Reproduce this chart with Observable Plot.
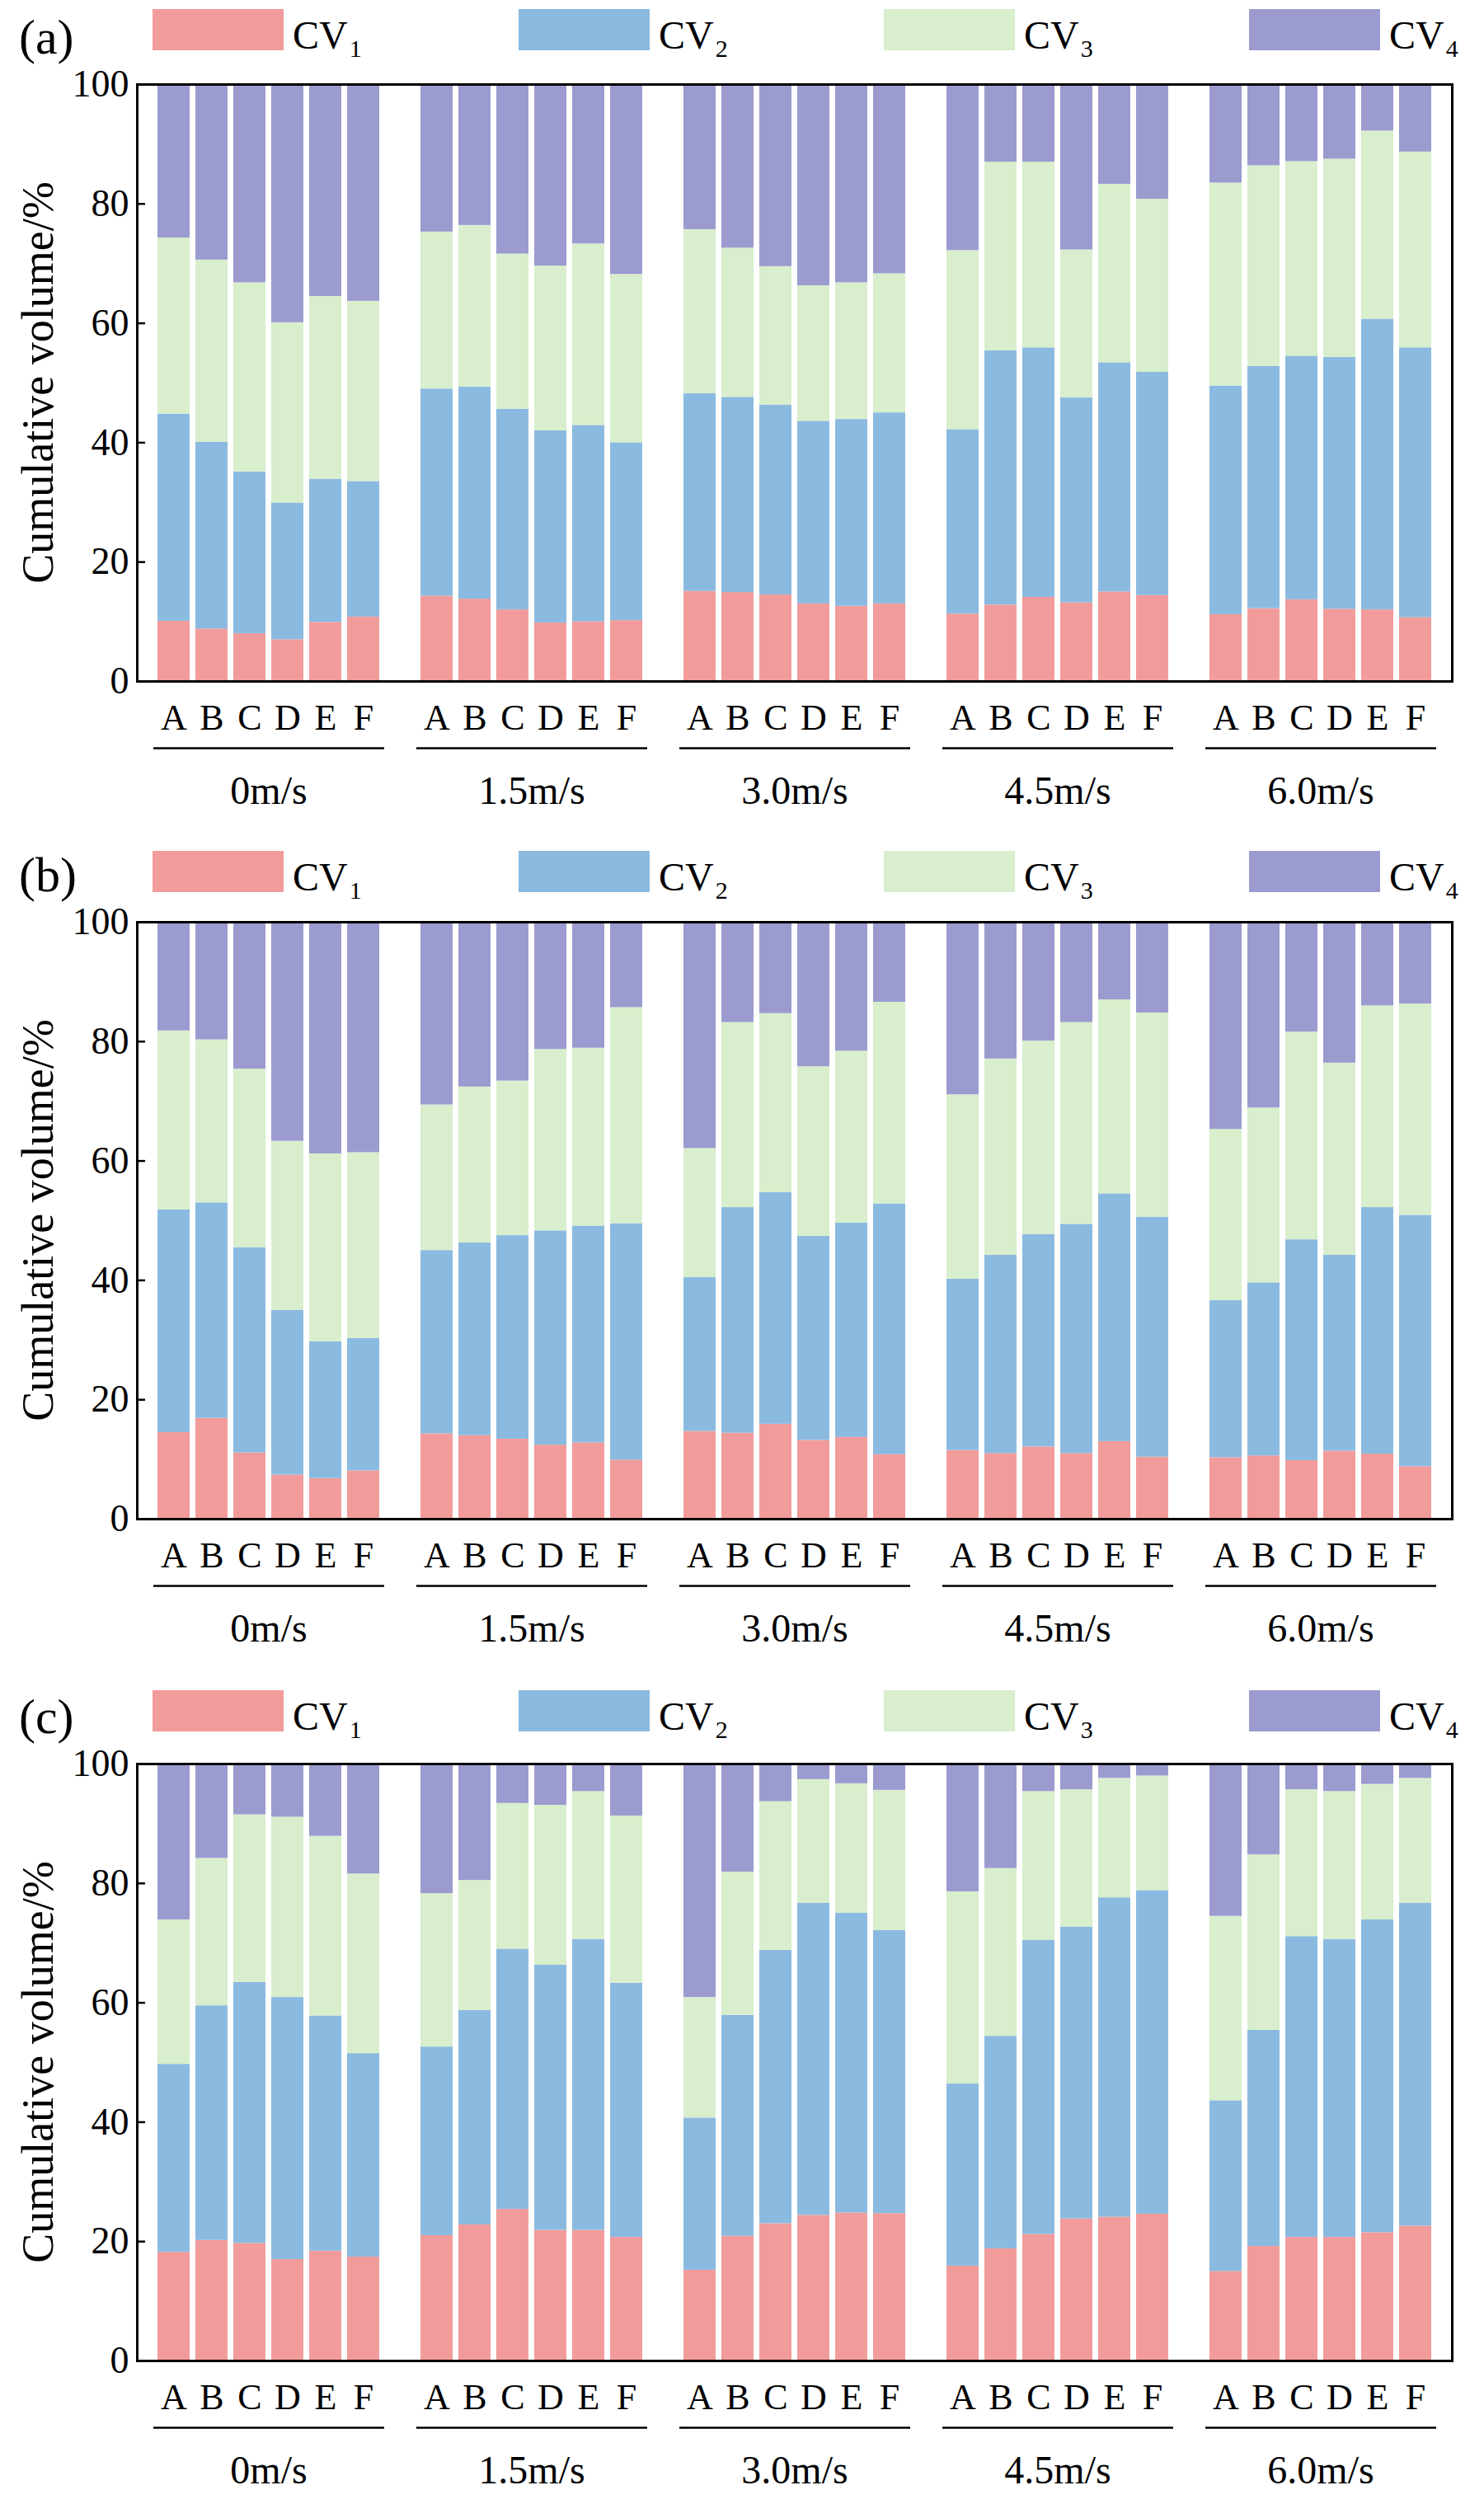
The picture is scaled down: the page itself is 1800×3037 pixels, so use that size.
<!DOCTYPE html>
<html><head><meta charset="utf-8">
<script src="https://cdn.jsdelivr.net/npm/d3@7"></script>
<script src="https://cdn.jsdelivr.net/npm/@observablehq/plot@0.6"></script>
<style>
body{margin:0;background:#fff;width:1800px;height:3037px;position:relative;overflow:hidden;font-family:"Palatino Linotype","Book Antiqua",Palatino,"Liberation Serif",serif;color:#000;}
.block{position:absolute;left:0;width:1800px;height:1000px;}
.plabel{position:absolute;left:23px;font-size:60px;line-height:1.2;white-space:nowrap;}
.sw{position:absolute;width:159px;height:50px;}
.lt{position:absolute;font-size:48px;line-height:1.2;white-space:nowrap;}
.lt .sub{font-size:30px;position:relative;top:10px;margin-left:2px;}
.ylab{position:absolute;left:46px;top:464px;font-size:54px;line-height:1.2;white-space:nowrap;transform:translate(-50%,-50%) rotate(-90deg);}
.chart{position:absolute;left:0;top:50px;}
</style></head><body>
<script>
// categories
const groups = ["0m/s", "1.5m/s", "3.0m/s", "4.5m/s", "6.0m/s"];
const letters = ["A", "B", "C", "D", "E", "F"];
const seriesNames = ["CV1", "CV2", "CV3", "CV4"];
const seriesColors = ["#f29b9b", "#8bbae0", "#d8eecd", "#9b9bcf"];
const yTicks = [0, 20, 40, 60, 80, 100];

// cumulative tops (%) of CV1, CV1+CV2, CV1+CV2+CV3; 6 bars (A-F) per group, 5 groups
const aCv1Top = [10.1, 8.8, 8.0, 7.0, 9.9, 10.8, 14.3, 13.8, 12.0, 9.8, 10.0, 10.2, 15.1, 14.9, 14.5, 13.0, 12.6, 13.0, 11.3, 12.8, 14.1, 13.2, 15.0, 14.4, 11.2, 12.2, 13.7, 12.1, 12.0, 10.7];
const aCv2Top = [44.8, 40.1, 35.1, 29.9, 33.9, 33.5, 49.0, 49.3, 45.6, 42.0, 42.9, 40.0, 48.2, 47.6, 46.3, 43.6, 43.9, 45.0, 42.2, 55.4, 55.9, 47.5, 53.4, 51.8, 49.5, 52.8, 54.5, 54.3, 60.7, 55.9];
const aCv3Top = [74.3, 70.6, 66.8, 60.1, 64.5, 63.7, 75.3, 76.4, 71.6, 69.6, 73.3, 68.2, 75.7, 72.6, 69.5, 66.3, 66.8, 68.3, 72.2, 87.0, 87.0, 72.3, 83.3, 80.8, 83.5, 86.4, 87.1, 87.5, 92.2, 88.7];

const bCv1Top = [14.5, 16.9, 11.1, 7.4, 6.8, 8.1, 14.3, 14.0, 13.4, 12.4, 12.8, 9.9, 14.7, 14.4, 15.9, 13.2, 13.7, 10.8, 11.5, 11.0, 12.1, 11.0, 13.0, 10.4, 10.3, 10.6, 9.8, 11.4, 10.9, 8.8];
const bCv2Top = [51.8, 53.0, 45.5, 35.0, 29.7, 30.3, 45.0, 46.3, 47.5, 48.3, 49.1, 49.5, 40.5, 52.2, 54.7, 47.4, 49.6, 52.8, 40.2, 44.2, 47.7, 49.4, 54.5, 50.6, 36.6, 39.6, 46.8, 44.2, 52.2, 50.9];
const bCv3Top = [81.8, 80.3, 75.4, 63.3, 61.2, 61.4, 69.4, 72.4, 73.4, 78.7, 78.9, 85.7, 62.1, 83.2, 84.7, 75.8, 78.4, 86.6, 71.1, 77.1, 80.1, 83.2, 87.0, 84.8, 65.3, 68.9, 81.6, 76.4, 86.0, 86.3];

const cCv1Top = [18.2, 20.2, 19.7, 17.0, 18.4, 17.4, 21.0, 22.8, 25.4, 21.9, 21.9, 20.7, 15.2, 20.9, 23.0, 24.4, 24.8, 24.7, 15.9, 18.8, 21.2, 23.8, 24.1, 24.6, 15.0, 19.2, 20.7, 20.7, 21.5, 22.6];
const cCv2Top = [49.7, 59.5, 63.4, 60.9, 57.8, 51.5, 52.6, 58.7, 69.0, 66.3, 70.6, 63.3, 40.7, 57.9, 68.8, 76.7, 75.0, 72.1, 46.4, 54.4, 70.5, 72.7, 77.6, 78.8, 43.6, 55.4, 71.1, 70.6, 73.9, 76.7];
const cCv3Top = [73.9, 84.2, 91.5, 91.1, 87.9, 81.6, 78.3, 80.5, 93.4, 93.1, 95.4, 91.3, 60.9, 81.9, 93.7, 97.4, 96.7, 95.6, 78.6, 82.5, 95.4, 95.7, 97.6, 98.0, 74.5, 84.8, 95.7, 95.4, 96.6, 97.6];

const panels = [
  {label: "(a)", tops: [aCv1Top, aCv2Top, aCv3Top], top: 0, legendTop: 11},
  {label: "(b)", tops: [bCv1Top, bCv2Top, bCv3Top], top: 1016, legendTop: 16},
  {label: "(c)", tops: [cCv1Top, cCv2Top, cCv3Top], top: 2037, legendTop: 13}
];

const legendX = [185, 629, 1072, 1515];
const fontFamily = '"Palatino Linotype","Book Antiqua",Palatino,"Liberation Serif",serif';

function rowsFor(tops) {
  const rows = [];
  for (let i = 0; i < groups.length * letters.length; i++) {
    const b = [0, tops[0][i], tops[1][i], tops[2][i], 100];
    for (let k = 0; k < 4; k++) {
      rows.push({group: groups[Math.floor(i / 6)], letter: letters[i % 6], cv: seriesNames[k], y1: b[k], y2: b[k + 1]});
    }
  }
  return rows;
}

for (const p of panels) {
  const block = document.createElement("div");
  block.className = "block";
  block.style.top = p.top + "px";
  document.body.appendChild(block);

  const chart = Plot.plot({
    width: 1800, height: 950,
    marginTop: 52, marginBottom: 174, marginLeft: 164, marginRight: 37,
    style: {fontFamily, fontSize: "44px", color: "black", background: "transparent", overflow: "visible"},
    fx: {domain: groups, padding: 0, label: null},
    x: {domain: letters, paddingInner: 0.145, paddingOuter: 0.485, label: null},
    y: {domain: [0, 100], label: null},
    color: {domain: seriesNames, range: seriesColors},
    marks: [
      Plot.barY(rowsFor(p.tops), {fx: "group", x: "letter", y1: "y1", y2: "y2", fill: "cv"}),
      Plot.frame({facet: "super", stroke: "black", strokeWidth: 3}),
      Plot.axisY({ticks: yTicks, tickSize: -10, tickPadding: 20, fontSize: 46, label: null, strokeWidth: 2.5}),
      Plot.axisX({tickSize: 0, tickPadding: 27, fontSize: 44, label: null}),
      Plot.axisFx({anchor: "bottom", tickSize: 0, tickPadding: 114, fontSize: 48, label: null}),
      Plot.ruleY([0], {dy: 81, insetLeft: 20, insetRight: 19, stroke: "black", strokeWidth: 2.5})
    ]
  });
  const holder = document.createElement("div");
  holder.className = "chart";
  holder.appendChild(chart);
  block.appendChild(holder);

  const lab = document.createElement("div");
  lab.className = "plabel";
  lab.style.top = "9px";
  lab.textContent = p.label;
  block.appendChild(lab);

  seriesNames.forEach((s, k) => {
    const sw = document.createElement("div");
    sw.className = "sw";
    sw.style.left = legendX[k] + "px";
    sw.style.top = p.legendTop + "px";
    sw.style.background = seriesColors[k];
    block.appendChild(sw);
    const t = document.createElement("div");
    t.className = "lt";
    t.style.left = (legendX[k] + 170) + "px";
    t.style.top = (p.legendTop + 3) + "px";
    t.innerHTML = "CV<span class='sub'>" + s.slice(2) + "</span>";
    block.appendChild(t);
  });

  const yl = document.createElement("div");
  yl.className = "ylab";
  yl.textContent = "Cumulative volume/%";
  block.appendChild(yl);
}
</script>
</body></html>
